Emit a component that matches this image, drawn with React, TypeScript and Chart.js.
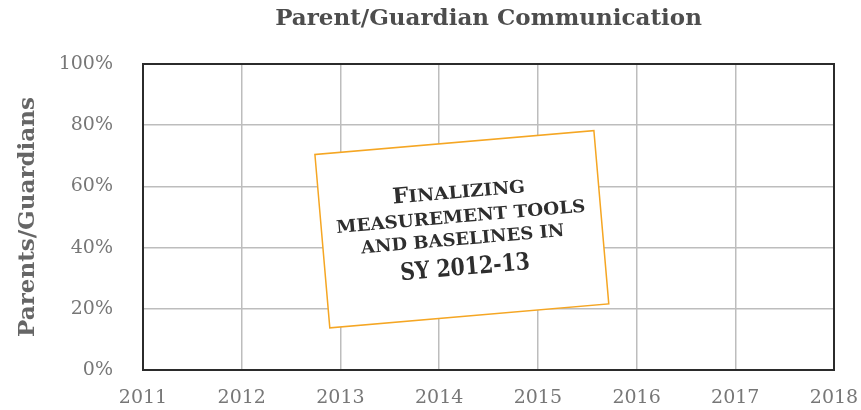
import React, { useEffect, useRef } from "react";
import { Chart, registerables } from "chart.js";

Chart.register(...registerables);

// ---- data ----
const TITLE = "Parent/Guardian Communication";
const Y_TITLE = "Parents/Guardians";
const YEARS = [2011, 2012, 2013, 2014, 2015, 2016, 2017, 2018];
const Y_TICKS = [0, 20, 40, 60, 80, 100];
// No measurements are plotted yet (baselines being finalized)
const SERIES_VALUES: { x: number; y: number }[] = [];
const NOTE_LINES = ["Finalizing", "measurement tools", "and baselines in", "SY 2012-13"];
// where the note sits, in data units (year, percent)
const NOTE_ANCHOR = { x: 2014.23, y: 46 };

const SERIF = "'DejaVu Serif', 'Liberation Serif', serif";

const titlePlugin = {
  id: "areaTitle",
  afterDraw(chart: any) {
    const { ctx, chartArea: a } = chart;
    ctx.save();
    ctx.fillStyle = "#4d4d4d";
    ctx.font = `bold 23px ${SERIF}`;
    ctx.textAlign = "center";
    ctx.textBaseline = "middle";
    ctx.fillText(TITLE, (a.left + a.right) / 2, 19);
    ctx.restore();
  },
};

const framePlugin = {
  id: "frame",
  afterDatasetsDraw(chart: any) {
    const { ctx, chartArea: a } = chart;
    ctx.save();
    ctx.strokeStyle = "#2b2b2b";
    ctx.lineWidth = 2;
    ctx.strokeRect(a.left, a.top, a.right - a.left, a.bottom - a.top);
    ctx.restore();
  },
};

function drawSmallCaps(ctx: any, text: string, big: number, small: number, baseline: number, targetW: number) {
  const runs: { t: string; s: number }[] = [];
  for (const ch of text) {
    const isLower = ch !== ch.toUpperCase() || (ch === " " && runs.length > 0 && runs[runs.length - 1].s === small);
    const s = isLower ? small : big;
    const t = ch.toUpperCase();
    if (runs.length && runs[runs.length - 1].s === s) runs[runs.length - 1].t += t;
    else runs.push({ t, s });
  }
  let total = 0;
  const widths = runs.map((r) => {
    ctx.font = `bold ${r.s}px ${SERIF}`;
    const w = ctx.measureText(r.t).width;
    total += w;
    return w;
  });
  const sx = targetW / total;
  ctx.save();
  ctx.translate(-targetW / 2, baseline);
  ctx.scale(sx, 1);
  let x = 0;
  runs.forEach((r, i) => {
    ctx.font = `bold ${r.s}px ${SERIF}`;
    ctx.fillText(r.t, x, 0);
    x += widths[i];
  });
  ctx.restore();
}

const notePlugin = {
  id: "note",
  afterDraw(chart: any) {
    const { ctx, scales } = chart;
    const cx = scales.x.getPixelForValue(NOTE_ANCHOR.x);
    const cy = scales.y.getPixelForValue(NOTE_ANCHOR.y);
    const w = 280;
    const h = 174;
    ctx.save();
    ctx.translate(cx, cy);
    ctx.rotate(-0.0857);
    ctx.fillStyle = "#ffffff";
    ctx.fillRect(-w / 2, -h / 2, w, h);
    ctx.strokeStyle = "#f5a623";
    ctx.lineWidth = 1.5;
    ctx.strokeRect(-w / 2, -h / 2, w, h);
    ctx.fillStyle = "#2e2e2e";
    ctx.textAlign = "left";
    ctx.textBaseline = "alphabetic";
    const baselines = [-31.5, -7, 15.5, 45.5];
    const targetW = [133, 250, 204, 130];
    const bigSizes = [21.5, 21.5, 21.5, 24];
    const smallSizes = [17.5, 17.5, 17.5, 17.5];
    NOTE_LINES.forEach((line, i) => {
      drawSmallCaps(ctx, line, bigSizes[i], smallSizes[i], baselines[i], targetW[i]);
    });
    ctx.restore();
  },
};

export default function App() {
  const ref = useRef<HTMLCanvasElement | null>(null);
  useEffect(() => {
    if (!ref.current) return;
    const chart = new Chart(ref.current, {
      type: "scatter",
      data: {
        datasets: [
          {
            label: Y_TITLE,
            data: SERIES_VALUES,
            borderColor: "#4472c4",
            backgroundColor: "#4472c4",
          },
        ],
      },
      options: {
        responsive: false,
        maintainAspectRatio: false,
        animation: false,
        devicePixelRatio: 1,
        layout: { padding: { left: 0, right: 27, top: 64, bottom: 0 } },
        plugins: {
          legend: { display: false },
          tooltip: { enabled: false },
          title: { display: false },
        },
        scales: {
          x: {
            type: "linear",
            min: YEARS[0],
            max: YEARS[YEARS.length - 1],
            afterBuildTicks: (s: any) => {
              s.ticks = YEARS.map((v) => ({ value: v }));
            },
            afterFit: (s: any) => {
              s.height = 40;
              s.paddingLeft = 0;
              s.paddingRight = 0;
            },
            ticks: {
              callback: (v: any) => String(v),
              color: "#777777",
              font: { family: SERIF, size: 19 },
              padding: 17,
              maxRotation: 0,
              autoSkip: false,
            },
            grid: { color: "#bdbdbd", lineWidth: 1.5, drawTicks: false },
            border: { display: false },
          },
          y: {
            type: "linear",
            min: Y_TICKS[0],
            max: Y_TICKS[Y_TICKS.length - 1],
            afterBuildTicks: (s: any) => {
              s.ticks = Y_TICKS.map((v) => ({ value: v }));
            },
            afterFit: (s: any) => {
              s.width = 143;
              s.paddingTop = 0;
              s.paddingBottom = 0;
            },
            ticks: {
              callback: (v: any) => v + "%",
              color: "#777777",
              font: { family: SERIF, size: 19 },
              padding: 30,
            },
            grid: { color: "#bdbdbd", lineWidth: 1.5, drawTicks: false },
            border: { display: false },
            title: {
              display: true,
              text: Y_TITLE,
              color: "#666666",
              font: { family: SERIF, size: 23, weight: "bold" },
              padding: { top: 14, bottom: 0 },
            },
          },
        },
      },
      plugins: [framePlugin, notePlugin, titlePlugin],
    } as any);
    return () => chart.destroy();
  }, []);
  return (
    <div style={{ position: "fixed", left: 0, top: 0, width: 861, height: 410, background: "#fff" }}>
      <canvas ref={ref} width={861} height={410} />
    </div>
  );
}
